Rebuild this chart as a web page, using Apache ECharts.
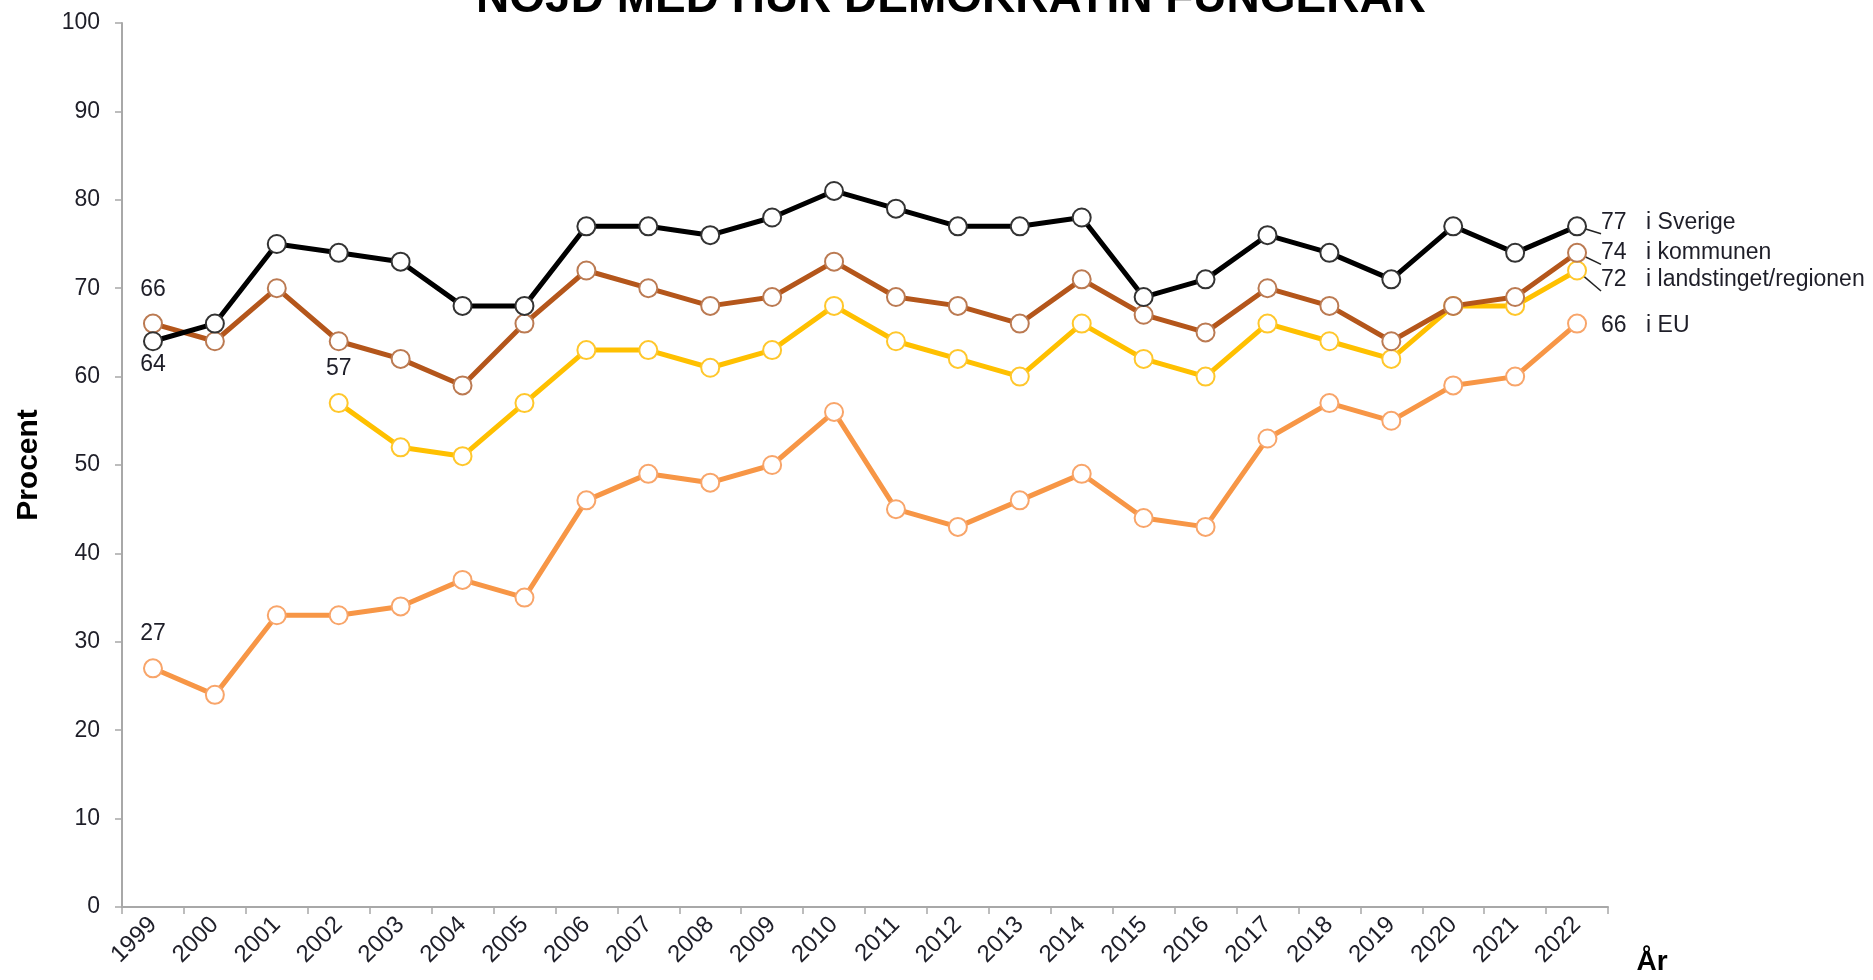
<!DOCTYPE html>
<html><head><meta charset="utf-8">
<script src="https://cdn.jsdelivr.net/npm/echarts@6/dist/echarts.min.js"></script>
<style>html,body{margin:0;padding:0;background:#fff}#c{width:1873px;height:980px}</style>
</head><body><div id="c"></div>
<script>
const years = ['1999','2000','2001','2002','2003','2004','2005','2006','2007','2008','2009','2010','2011','2012','2013','2014','2015','2016','2017','2018','2019','2020','2021','2022'];
const sverige = [64,66,75,74,73,68,68,77,77,76,78,81,79,77,77,78,69,71,76,74,71,77,74,77];
const kommunen = [66,64,70,64,62,59,66,72,70,68,69,73,69,68,66,71,67,65,70,68,64,68,69,74];
const landsting = [null,null,null,57,52,51,57,63,63,61,63,68,64,62,60,66,62,60,66,64,62,68,68,72];
const eu = [27,24,33,33,34,37,35,46,49,48,50,56,45,43,46,49,44,43,53,57,55,59,60,66];
const seriesNames = ['i Sverige','i kommunen','i landstinget/regionen','i EU'];
const yTicks = [0,10,20,30,40,50,60,70,80,90,100];
const title = 'NÖJD MED HUR DEMOKRATIN FUNGERAR';

const FONT = 'Liberation Sans, Arial, sans-serif';
const TXT = '#1e1e28';

function endLabel(name, dy) {
  return {
    show: true, position: 'right', distance: 14, offset: [0, dy],
    formatter: p => '{v|' + p.value + '}{n|' + name + '}',
    rich: { v: { width: 45, fontSize: 23, color: TXT, fontFamily: FONT },
            n: { fontSize: 23, color: TXT, fontFamily: FONT } }
  };
}
function startLabel(pos, dist) {
  return { show: true, position: pos, distance: dist, fontSize: 23, color: TXT, fontFamily: FONT };
}
function build(arr, name, firstIdx, firstPos, firstDist, endDy, showLine) {
  return arr.map((v, i) => {
    if (v === null) return null;
    if (i === firstIdx && firstPos) return { value: v, label: startLabel(firstPos, firstDist) };
    if (i === arr.length - 1) {
      const o = { value: v, label: endLabel(name, endDy) };
      if (showLine) o.labelLine = { show: true, lineStyle: { color: '#222', width: 1.5 } };
      return o;
    }
    return v;
  });
}
function mk(name, data, color, border) {
  return {
    name: name, type: 'line', data: data, z: 3,
    symbol: 'circle', symbolSize: 18, showSymbol: true,
    lineStyle: { color: color, width: 5 },
    itemStyle: { color: '#fff', borderColor: border, borderWidth: 2 },
    label: { show: false },
    emphasis: { disabled: true },
    animation: false
  };
}

const chart = echarts.init(document.getElementById('c'));
chart.setOption({
  backgroundColor: '#fff',
  animation: false,
  grid: { left: 122, right: 265, top: 23, bottom: 73, containLabel: false },
  xAxis: {
    type: 'category', data: years, boundaryGap: true,
    axisLine: { lineStyle: { color: '#a8a8a8', width: 2 } },
    axisTick: { show: true, length: 7, lineStyle: { color: '#a8a8a8', width: 1.5 }, alignWithLabel: false },
    axisLabel: { rotate: 45, fontSize: 24, color: TXT, fontFamily: FONT, margin: 14, interval: 0 },
    splitLine: { show: false }
  },
  yAxis: {
    type: 'value', min: 0, max: 100, interval: 10,
    name: 'Procent', nameLocation: 'middle', nameGap: 78,
    nameTextStyle: { fontSize: 30, fontWeight: 'bold', color: '#000', fontFamily: FONT },
    axisLine: { show: true, lineStyle: { color: '#a8a8a8', width: 2 } },
    axisTick: { show: true, length: 7, lineStyle: { color: '#a8a8a8', width: 1.5 } },
    axisLabel: { fontSize: 23, color: TXT, fontFamily: FONT, margin: 22,
                 formatter: v => yTicks.includes(v) ? String(v) : '' },
    splitLine: { show: false }
  },
  graphic: [
    { type: 'text', z: 10,
      style: { text: title, x: 951, y: -1, align: 'center', verticalAlign: 'middle',
               font: 'bold 46px ' + FONT, fill: '#000' } },
    { type: 'text', z: 10,
      style: { text: 'År', x: 1652, y: 962, align: 'center', verticalAlign: 'middle',
               font: 'bold 28px ' + FONT, fill: '#000' } }
  ],
  series: [
    mk(seriesNames[3], build(eu, seriesNames[3], 0, 'top', 13, 2, false), '#F79646', '#F8A56A'),
    mk(seriesNames[2], build(landsting, seriesNames[2], 3, 'top', 13, 9, true), '#FFC000', '#FFC72C'),
    mk(seriesNames[1], build(kommunen, seriesNames[1], 0, 'top', 12, 0, true), '#B4561B', '#BB7A52'),
    mk(seriesNames[0], build(sverige, seriesNames[0], 0, 'bottom', 2, -4, true), '#000000', '#333333')
  ]
});
</script></body></html>
